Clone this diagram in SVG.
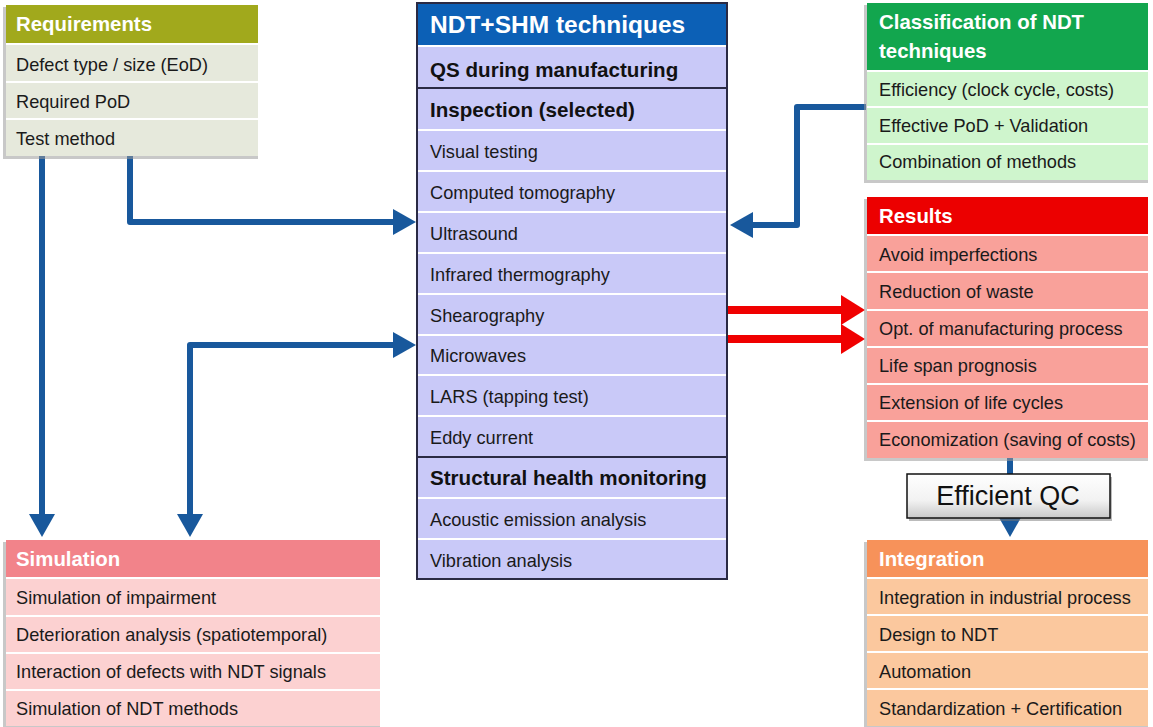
<svg xmlns="http://www.w3.org/2000/svg" width="1153" height="727" viewBox="0 0 1153 727">
<style>
.t{font-family:"Liberation Sans",Arial,sans-serif;font-size:18.2px;fill:#1a1a1a}
.tb{font-family:"Liberation Sans",Arial,sans-serif;font-size:20.6px;font-weight:bold;fill:#111}
.h{font-family:"Liberation Sans",Arial,sans-serif;font-size:20.4px;font-weight:bold;fill:#fff}
.big{font-size:24.5px}
.sep{stroke:#fff;stroke-width:2}
.dsep{stroke:#2a2a44;stroke-width:2}
.sh{fill:#9a9a9a;opacity:0.55}
.blue{fill:none;stroke:#18589c;stroke-width:6;stroke-linejoin:round}
.red{fill:none;stroke:#f00000;stroke-width:8}
</style>
<defs>
<marker id="ab" markerUnits="userSpaceOnUse" markerWidth="26" markerHeight="26" refX="2" refY="13" orient="auto">
<path d="M0,0 L23,13 L0,26 Z" fill="#18589c"/>
</marker>
<marker id="abs" markerUnits="userSpaceOnUse" markerWidth="26" markerHeight="26" refX="2" refY="13" orient="auto-start-reverse">
<path d="M0,0 L23,13 L0,26 Z" fill="#18589c"/>
</marker>
<marker id="ar" markerUnits="userSpaceOnUse" markerWidth="28" markerHeight="30" refX="2" refY="15" orient="auto">
<path d="M0,0 L24,15 L0,30 Z" fill="#f00000"/>
</marker>
<linearGradient id="qc" x1="0" y1="0" x2="0" y2="1">
<stop offset="0" stop-color="#ffffff"/><stop offset="0.6" stop-color="#f2f2f2"/><stop offset="1" stop-color="#c8c8c8"/>
</linearGradient>
</defs>
<rect width="1153" height="727" fill="#fff"/>

<g id="connectors">
<path class="blue" d="M130,156 V222 H395" marker-end="url(#ab)"/>
<path class="blue" d="M42,156 V516" marker-end="url(#ab)"/>
<path class="blue" d="M190,516 V345 H395" marker-start="url(#abs)" marker-end="url(#ab)"/>
<path class="blue" d="M866,107 H797 V225 H751" marker-end="url(#ab)"/>
<path class="blue" d="M1010,458 V474"/>
<path class="blue" d="M1010,515 V516" marker-end="url(#ab)"/>
<path class="red" d="M726,310 H843" marker-end="url(#ar)"/>
<path class="red" d="M726,339 H843" marker-end="url(#ar)"/>
</g>

<g id="requirements">
<rect class="sh" x="3" y="7" width="255" height="152"/>
<rect x="6" y="5" width="252" height="38" fill="#a1a91c"/>
<rect x="6" y="43" width="252" height="113" fill="#e6e9dc"/>
<line class="sep" x1="6" y1="44" x2="258" y2="44"/>
<line class="sep" x1="6" y1="82" x2="258" y2="82"/>
<line class="sep" x1="6" y1="119" x2="258" y2="119"/>
<text class="h" x="16" y="31">Requirements</text>
<text class="t" x="16" y="71">Defect type / size (EoD)</text>
<text class="t" x="16" y="108">Required PoD</text>
<text class="t" x="16" y="145">Test method</text>
</g>

<g id="ndt-shm">
<rect x="416" y="2" width="312" height="578" fill="#2a2a44"/>
<rect x="418" y="4" width="308" height="574" fill="#c9c9f8"/>
<rect x="418" y="4" width="308" height="41" fill="#0c60b6"/>
<line class="sep" x1="418" y1="46" x2="726" y2="46" stroke-width="3"/>
<line class="dsep" x1="418" y1="88" x2="726" y2="88"/>
<line class="sep" x1="418" y1="130" x2="726" y2="130"/>
<line class="sep" x1="418" y1="171" x2="726" y2="171"/>
<line class="sep" x1="418" y1="212" x2="726" y2="212"/>
<line class="sep" x1="418" y1="253" x2="726" y2="253"/>
<line class="sep" x1="418" y1="294" x2="726" y2="294"/>
<line class="sep" x1="418" y1="335" x2="726" y2="335"/>
<line class="sep" x1="418" y1="375" x2="726" y2="375"/>
<line class="sep" x1="418" y1="416" x2="726" y2="416"/>
<line class="dsep" x1="418" y1="457" x2="726" y2="457"/>
<line class="sep" x1="418" y1="498" x2="726" y2="498"/>
<line class="sep" x1="418" y1="539" x2="726" y2="539"/>
<text class="h big" x="430" y="33">NDT+SHM techniques</text>
<text class="tb" x="430" y="77">QS during manufacturing</text>
<text class="tb" x="430" y="117">Inspection (selected)</text>
<text class="t" x="430" y="158">Visual testing</text>
<text class="t" x="430" y="199">Computed tomography</text>
<text class="t" x="430" y="240">Ultrasound</text>
<text class="t" x="430" y="281">Infrared thermography</text>
<text class="t" x="430" y="322">Shearography</text>
<text class="t" x="430" y="362">Microwaves</text>
<text class="t" x="430" y="403">LARS (tapping test)</text>
<text class="t" x="430" y="444">Eddy current</text>
<text class="tb" x="430" y="485">Structural health monitoring</text>
<text class="t" x="430" y="526">Acoustic emission analysis</text>
<text class="t" x="430" y="567">Vibration analysis</text>
</g>

<g id="classification">
<rect class="sh" x="864" y="5" width="284" height="178"/>
<rect x="867" y="3" width="281" height="67" fill="#12a64e"/>
<rect x="867" y="70" width="281" height="110" fill="#cff5cd"/>
<line class="sep" x1="867" y1="71" x2="1148" y2="71" stroke-width="3"/>
<line class="sep" x1="867" y1="107" x2="1148" y2="107"/>
<line class="sep" x1="867" y1="144" x2="1148" y2="144"/>
<text class="h" x="879" y="29">Classification of NDT</text>
<text class="h" x="879" y="58">techniques</text>
<text class="t" x="879" y="96">Efficiency (clock cycle, costs)</text>
<text class="t" x="879" y="132">Effective PoD + Validation</text>
<text class="t" x="879" y="168">Combination of methods</text>
</g>

<g id="results">
<rect class="sh" x="864" y="199" width="284" height="262"/>
<rect x="867" y="197" width="281" height="37" fill="#ec0000"/>
<rect x="867" y="234" width="281" height="224" fill="#f9a19a"/>
<line class="sep" x1="867" y1="235" x2="1148" y2="235" stroke-width="3"/>
<line class="sep" x1="867" y1="272" x2="1148" y2="272"/>
<line class="sep" x1="867" y1="310" x2="1148" y2="310"/>
<line class="sep" x1="867" y1="347" x2="1148" y2="347"/>
<line class="sep" x1="867" y1="384" x2="1148" y2="384"/>
<line class="sep" x1="867" y1="421" x2="1148" y2="421"/>
<text class="h" x="879" y="223">Results</text>
<text class="t" x="879" y="261">Avoid imperfections</text>
<text class="t" x="879" y="298">Reduction of waste</text>
<text class="t" x="879" y="335">Opt. of manufacturing process</text>
<text class="t" x="879" y="372">Life span prognosis</text>
<text class="t" x="879" y="409">Extension of life cycles</text>
<text class="t" x="879" y="446">Economization (saving of costs)</text>
</g>

<g id="efficient-qc">
<rect x="909" y="477" width="203" height="44" fill="#777" opacity="0.5"/>
<rect x="907" y="474" width="203" height="44" fill="url(#qc)" stroke="#111" stroke-width="1.5"/>
<text x="1008" y="505" text-anchor="middle" font-family="Liberation Sans,Arial,sans-serif" font-size="27" fill="#111">Efficient QC</text>
</g>

<g id="integration">
<rect class="sh" x="864" y="542" width="284" height="185"/>
<rect x="867" y="540" width="281" height="37" fill="#f7925a"/>
<rect x="867" y="577" width="281" height="149" fill="#fbc89e"/>
<line class="sep" x1="867" y1="578" x2="1148" y2="578" stroke-width="3"/>
<line class="sep" x1="867" y1="615" x2="1148" y2="615"/>
<line class="sep" x1="867" y1="652" x2="1148" y2="652"/>
<line class="sep" x1="867" y1="689" x2="1148" y2="689"/>
<text class="h" x="879" y="566">Integration</text>
<text class="t" x="879" y="604">Integration in industrial process</text>
<text class="t" x="879" y="641">Design to NDT</text>
<text class="t" x="879" y="678">Automation</text>
<text class="t" x="879" y="715">Standardization + Certification</text>
</g>

<g id="simulation">
<rect class="sh" x="3" y="542" width="377" height="185"/>
<rect x="6" y="540" width="374" height="37" fill="#f2838a"/>
<rect x="6" y="577" width="374" height="149" fill="#fcd1d1"/>
<line class="sep" x1="6" y1="578" x2="380" y2="578" stroke-width="3"/>
<line class="sep" x1="6" y1="616" x2="380" y2="616"/>
<line class="sep" x1="6" y1="653" x2="380" y2="653"/>
<line class="sep" x1="6" y1="690" x2="380" y2="690"/>
<text class="h" x="16" y="566">Simulation</text>
<text class="t" x="16" y="604">Simulation of impairment</text>
<text class="t" x="16" y="641">Deterioration analysis (spatiotemporal)</text>
<text class="t" x="16" y="678">Interaction of defects with NDT signals</text>
<text class="t" x="16" y="715">Simulation of NDT methods</text>
</g>
</svg>
